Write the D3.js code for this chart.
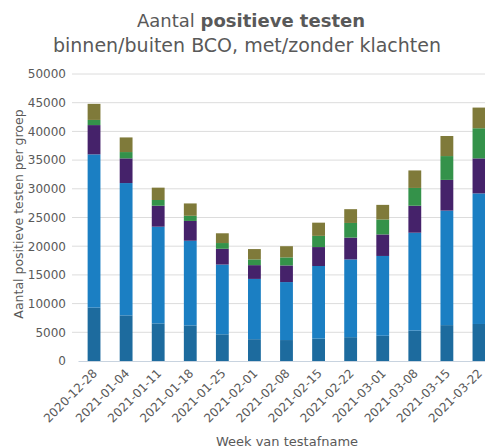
<!DOCTYPE html>
<html>
<head>
<meta charset="utf-8">
<script src="https://cdn.jsdelivr.net/npm/d3@7"></script>
<style>
  body { margin: 0; background: #fff; }
  text { font-family: "DejaVu Sans", Verdana, sans-serif; }
</style>
</head>
<body>
<svg width="485" height="448"></svg>
<script>
const weeks = ['2020-12-28', '2021-01-04', '2021-01-11', '2021-01-18', '2021-01-25', '2021-02-01',
  '2021-02-08', '2021-02-15', '2021-02-22', '2021-03-01', '2021-03-08', '2021-03-15', '2021-03-22'];

// five groups, bottom to top
const groupA = [9300, 7950, 6550, 6200, 4650, 3800, 3650, 3900, 4150, 4400, 5300, 6250, 6450];
const groupB = [26700, 23050, 16850, 14750, 12150, 10500, 10100, 12650, 13550, 13900, 17050, 19950, 22750];
const groupC = [5100, 4300, 3650, 3450, 2750, 2400, 2900, 3300, 3800, 3750, 4700, 5350, 6100];
const groupD = [900, 1100, 1000, 900, 1000, 1000, 1400, 1950, 2550, 2600, 3100, 4150, 5250];
const groupE = [2800, 2550, 2150, 2150, 1700, 1800, 1950, 2300, 2400, 2550, 3050, 3500, 3600];

const yTicks = [0, 5000, 10000, 15000, 20000, 25000, 30000, 35000, 40000, 45000, 50000];

const keys = ['a', 'b', 'c', 'd', 'e'];
const colors = ['#1d6b9e', '#1b7fc3', '#45226a', '#34924a', '#7f7a3a'];

const rows = weeks.map((w, i) => ({
  week: w, a: groupA[i], b: groupB[i], c: groupC[i], d: groupD[i], e: groupE[i]
}));

const svg = d3.select('svg');

const x = d3.scaleBand()
  .domain(weeks)
  .range([78, 495])
  .paddingInner(0.6)
  .paddingOuter(0.3);

const y = d3.scaleLinear()
  .domain([0, 50000])
  .range([361, 74]);

// gridlines
svg.append('g')
  .selectAll('line')
  .data(yTicks.slice(1))
  .enter()
  .append('line')
  .attr('x1', 72)
  .attr('x2', 485)
  .attr('y1', d => y(d))
  .attr('y2', d => y(d))
  .attr('stroke', '#dcdcdc')
  .attr('stroke-width', 1);

// y axis labels
const yAxis = svg.append('g')
  .attr('transform', 'translate(72,0)')
  .call(d3.axisLeft(y).tickValues(yTicks).tickSize(0).tickPadding(6).tickFormat(d3.format('d')));
yAxis.select('.domain').remove();
yAxis.selectAll('text')
  .attr('fill', '#595959')
  .style('font-size', '12px');

// stacked bars
const stack = d3.stack().keys(keys)(rows);

svg.append('g')
  .selectAll('g')
  .data(stack)
  .enter()
  .append('g')
  .attr('fill', (d, i) => colors[i])
  .selectAll('rect')
  .data(d => d)
  .enter()
  .append('rect')
  .attr('x', d => x(d.data.week))
  .attr('y', d => y(d[1]))
  .attr('height', d => y(d[0]) - y(d[1]))
  .attr('width', x.bandwidth());

// x axis
const xAxis = svg.append('g')
  .attr('transform', 'translate(0,361)')
  .call(d3.axisBottom(x).tickSize(0).tickPadding(0));
xAxis.select('.domain')
  .attr('stroke', '#c8d3df');
xAxis.selectAll('text')
  .attr('fill', '#595959')
  .style('font-size', '12px')
  .style('text-anchor', 'end')
  .attr('dx', 0)
  .attr('dy', '0.35em')
  .attr('y', 0)
  .attr('transform', 'translate(1,10) rotate(-45)');

// titles
const title = svg.append('text')
  .attr('x', 251)
  .attr('y', 27)
  .attr('text-anchor', 'middle')
  .attr('fill', '#595959')
  .style('font-size', '18px');
title.append('tspan').text('Aantal ');
title.append('tspan').attr('font-weight', 'bold').text('positieve testen');

svg.append('text')
  .attr('x', 247)
  .attr('y', 52)
  .attr('text-anchor', 'middle')
  .attr('fill', '#595959')
  .style('font-size', '19px')
  .text('binnen/buiten BCO, met/zonder klachten');

svg.append('text')
  .attr('transform', 'translate(23,214) rotate(-90)')
  .attr('text-anchor', 'middle')
  .attr('fill', '#595959')
  .style('font-size', '12.5px')
  .text('Aantal positieve testen per groep');

svg.append('text')
  .attr('x', 287)
  .attr('y', 446)
  .attr('text-anchor', 'middle')
  .attr('fill', '#595959')
  .style('font-size', '13px')
  .text('Week van testafname');
</script>
</body>
</html>
